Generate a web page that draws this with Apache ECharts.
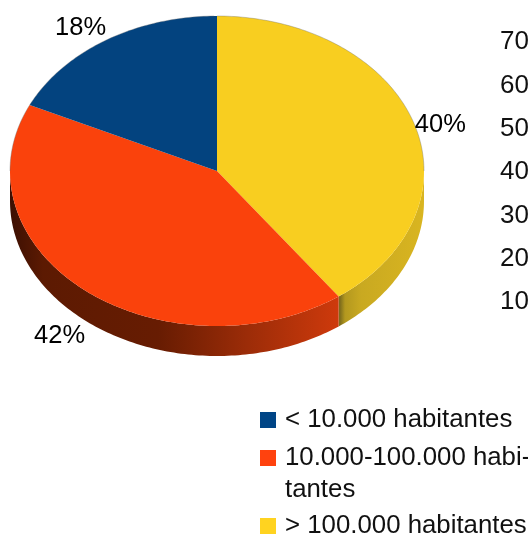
<!DOCTYPE html>
<html>
<head>
<meta charset="utf-8">
<style>
    html, body { margin: 0; padding: 0; background: #fff; overflow: hidden; }
    #container1 { width: 528px; height: 536px; }
</style>
<script src="https://cdn.jsdelivr.net/npm/echarts@6/dist/echarts.min.js"></script>
</head>
<body>
<div id="container1"></div>
<script>
// data
var categories = ['> 100.000 habitantes', '10.000-100.000 habitantes', '< 10.000 habitantes'];
var values = [40, 42, 18];
var tickLabels = ['10', '20', '30', '40', '50', '60', '70'];

// pie shape
var cx = 217, cy = 171, rx = 207, ry = 155, depth = 30;
var fontName = '"Liberation Sans"';
var topColors = ['#f8ce20', '#fa420c', '#03437f'];
var legendColors = ['#ffd320', '#ff420e', '#004586'];
var wallStops = [
    [
        { offset: 0, color: '#7d6c1c' },
        { offset: 0.06, color: '#b3981f' },
        { offset: 0.25, color: '#c9a921' },
        { offset: 1, color: '#d9b520' }
    ],
    [
        { offset: 0, color: '#3c0f02' },
        { offset: 0.1, color: '#5c1a02' },
        { offset: 0.45, color: '#671c02' },
        { offset: 0.72, color: '#9c2c08' },
        { offset: 1, color: '#cf3a0c' }
    ],
    [{ offset: 0, color: '#002a50' }, { offset: 1, color: '#002a50' }]
];
var wallX = [[340, 424], [10, 340], [10, 217]];
var legendTop = [510, 410, 404];
var legendText = ['> 100.000 habitantes', '\n10.000-100.000 habi-\ntantes', '< 10.000 habitantes'];

function sumBefore(i) {
    var s = 0;
    for (var k = 0; k < i; k++) {
        s += values[k];
    }
    return s;
}
function total() {
    return sumBefore(values.length);
}
function rimPoint(deg, drop) {
    var t = deg * Math.PI / 180;
    return [cx + rx * Math.sin(t), cy - ry * Math.cos(t) + (drop || 0)];
}

function renderSlice(i, api) {
    var start = sumBefore(i) / total() * 360;
    var end = start + api.value(0) / total() * 360;
    var children = [];
    var d;

    // side wall, only the lower half of the rim can be seen
    var a = Math.max(start, 90), b = Math.min(end, 270);
    if (b > a) {
        var wall = [];
        for (d = a; d < b; d += 1) { wall.push(rimPoint(d)); }
        wall.push(rimPoint(b));
        wall.push(rimPoint(b, depth));
        for (d = b; d > a; d -= 1) { wall.push(rimPoint(d, depth)); }
        wall.push(rimPoint(a, depth));
        children.push({
            type: 'polygon',
            shape: { points: wall },
            style: {
                fill: {
                    type: 'linear', global: true,
                    x: wallX[i][0], y: 0, x2: wallX[i][1], y2: 0,
                    colorStops: wallStops[i]
                }
            }
        });
    }

    // top face
    var face = [[cx, cy]];
    var rim = [];
    for (d = start; d < end; d += 1) {
        face.push(rimPoint(d));
        // faint grey edge on the far side of the disc
        if (d <= 90 || d >= 270) { rim.push(rimPoint(d)); }
    }
    face.push(rimPoint(end));
    children.push({
        type: 'polygon',
        shape: { points: face },
        style: { fill: topColors[i] }
    });
    if (rim.length > 1) {
        children.push({
            type: 'polyline',
            shape: { points: rim },
            style: { fill: null, stroke: 'rgba(110,110,110,0.45)', lineWidth: 0.8 }
        });
    }

    // percent label sits outside the middle of the rim
    var mid = (start + end) / 2;
    var lowerHalf = mid > 90 && mid < 270;
    var sideways = Math.abs(Math.cos(mid * Math.PI / 180)) < 0.5;
    var p = rimPoint(mid, lowerHalf ? depth + 3 : (sideways ? 2 : 1));
    children.push({
        type: 'text',
        style: {
            text: api.value(0) + '%',
            x: p[0] + (sideways ? 1 : 0),
            y: p[1],
            align: mid < 180 ? 'left' : 'right',
            verticalAlign: sideways ? 'middle' : (lowerHalf ? 'top' : 'bottom'),
            font: '25.5px ' + fontName,
            fill: '#000'
        }
    });
    return { type: 'group', children: children };
}

function Chart_Init() {
    var myChart = echarts.init(document.getElementById('container1'));
    var series = [];
    var legends = [];
    for (var i = 0; i < categories.length; i++) {
        series.push({
            name: categories[i],
            type: 'custom',
            coordinateSystem: 'none',
            silent: true,
            itemStyle: { color: legendColors[i] },
            renderItem: (function (idx) {
                return function (params, api) { return renderSlice(idx, api); };
            })(i),
            data: [values[i]]
        });
        legends.push({
            data: [{ name: categories[i], icon: 'rect' }],
            orient: 'vertical',
            left: 260,
            top: legendTop[i],
            padding: 0,
            itemWidth: 16,
            itemHeight: 16,
            selectedMode: false,
            formatter: (function (idx) {
                return function () { return legendText[idx]; };
            })(i),
            textStyle: {
                fontFamily: fontName,
                fontSize: 25.8,
                lineHeight: 32,
                color: '#111',
                padding: [0, 0, 0, 4]
            }
        });
    }
    var option = {
        backgroundColor: '#fff',
        animation: false,
        legend: legends,
        // the axis at the right edge, cut by the window like the reference
        grid: { left: 500, top: 42, width: 28, height: 260 },
        xAxis: { type: 'value', show: false },
        yAxis: {
            type: 'category',
            boundaryGap: false,
            data: tickLabels,
            axisLine: { show: false },
            axisTick: { show: false },
            splitLine: { show: false },
            axisLabel: {
                inside: true,
                margin: 0,
                interval: 0,
                fontFamily: fontName,
                fontSize: 26,
                color: '#111'
            }
        },
        series: series
    };
    myChart.setOption(option);
}
Chart_Init();
</script>
</body>
</html>
